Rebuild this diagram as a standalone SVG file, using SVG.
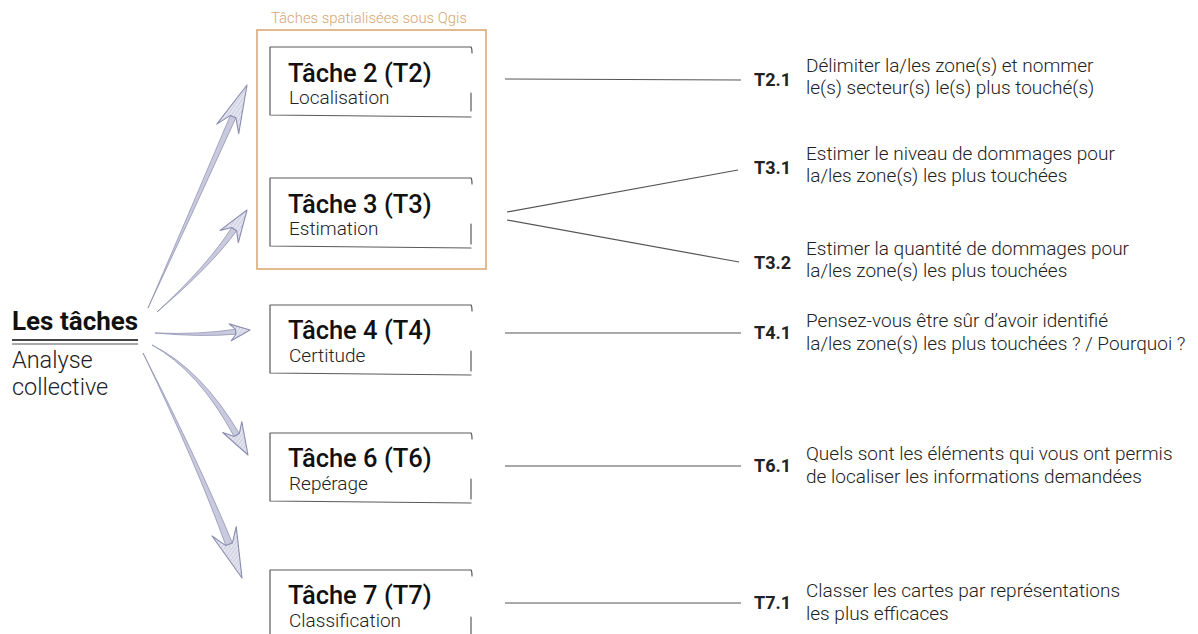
<svg xmlns="http://www.w3.org/2000/svg" width="1198" height="634" viewBox="0 0 1198 634">
<defs>
<style>
text{font-family:Roboto,"Liberation Sans",sans-serif;fill:#1a1a1a}
.frame{fill:none;stroke:#d9a46b;stroke-width:1.5}
.frameTitle{font-size:14.9px;font-weight:300;fill:#d6a672}
.box{fill:none;stroke:#5a5a5a;stroke-width:1.2;stroke-linecap:round}
.ttl{font-size:25.5px;font-weight:500;fill:#111}
.sub{font-size:19px;font-weight:300;fill:#222}
.con{fill:none;stroke:#555;stroke-width:1.2}
.code{font-size:18px;font-weight:700;fill:#222}
.desc{font-size:19px;font-weight:300;fill:#222}
.shaft{fill:#c9cadd;stroke:#9093b4;stroke-width:0.8;stroke-linejoin:round}
.head{fill:url(#hatch);stroke:#8a8db0;stroke-width:1.1;stroke-linejoin:round}
.main{font-size:26px;font-weight:700;fill:#111}
.mainsub{font-size:23.5px;font-weight:300;fill:#222}
</style>
<pattern id="hatch" patternUnits="userSpaceOnUse" width="3" height="3" patternTransform="rotate(35)">
<rect width="3" height="3" fill="#e4e5ef"/>
<line x1="0" y1="0" x2="0" y2="3" stroke="#b3b5cf" stroke-width="1"/>
</pattern>
</defs>
<rect width="1198" height="634" fill="#ffffff"/>

<g id="root">
<text class="main" x="12" y="330">Les tâches</text>
<line x1="12" y1="340" x2="138" y2="340" stroke="#444" stroke-width="1.8"/>
<line x1="12" y1="344" x2="138" y2="344" stroke="#555" stroke-width="1"/>
<text class="mainsub" x="12" y="368">Analyse</text>
<text class="mainsub" x="12" y="395">collective</text>
</g>

<g id="arrows">
<path class="shaft" d="M148,308 Q191.4,215.6 235.9,117.8 L230.4,115.4 Q188.6,214.4 148,308 Z"/>
<path class="head" d="M247,85 L238.7,133.7 L235.9,117.8 L230.4,115.4 L216.8,124.1 Z"/>
<path class="shaft" d="M157,312 Q211.2,265.8 236.6,230.8 L231.7,227.5 Q208.8,264.2 157,312 Z"/>
<path class="head" d="M247,210 L238.3,242.7 L236.6,230.8 L231.7,227.5 L220,230.4 Z"/>
<path class="shaft" d="M155,333 Q200.1,337.2 236,334.2 L235.4,329.2 Q199.9,334.8 155,333 Z"/>
<path class="head" d="M250,330 L231.2,340.8 L236,334.2 L235.4,329.2 L229.1,323.9 Z"/>
<path class="shaft" d="M152,345 Q198.7,370.7 234.1,436.4 L239.3,433.5 Q201.3,369.3 152,345 Z"/>
<path class="head" d="M248,455 L222.7,432.5 L234.1,436.4 L239.3,433.5 L241.8,421.7 Z"/>
<path class="shaft" d="M143,353 Q197.6,466.5 225.8,545.6 L232.4,543.1 Q200.4,465.5 143,353 Z"/>
<path class="head" d="M242,578 L212,536 L225.8,545.6 L232.4,543.1 L236.2,526.6 Z"/>
</g>

<g id="spatial-frame">
<rect class="frame" x="257" y="30" width="229" height="239"/>
<text class="frameTitle" x="271" y="23">Tâches spatialisées sous Qgis</text>
</g>

<g id="T2">
<path class="box" d="M270,47 L471,47 Q472,48 472,53 M270,47 L270,115 L471,117 M471,93 L471,111"/>
<text class="ttl" x="288" y="82">Tâche 2 (T2)</text>
<text class="sub" x="289" y="104">Localisation</text>
</g>
<g id="T3">
<path class="box" d="M270,178 L471,178 Q472,179 472,184 M270,178 L270,246 L471,248 M471,224 L471,244"/>
<text class="ttl" x="288" y="213">Tâche 3 (T3)</text>
<text class="sub" x="289" y="235">Estimation</text>
</g>
<g id="T4">
<path class="box" d="M270,305 L471,305 Q472,306 472,311 M270,305 L270,373 L471,375 M471,351 L471,371"/>
<text class="ttl" x="288" y="339">Tâche 4 (T4)</text>
<text class="sub" x="289" y="362">Certitude</text>
</g>
<g id="T6">
<path class="box" d="M270,433 L471,433 Q472,434 472,439 M270,433 L270,501 L471,503 M471,479 L471,499"/>
<text class="ttl" x="288" y="467">Tâche 6 (T6)</text>
<text class="sub" x="289" y="490">Repérage</text>
</g>
<g id="T7">
<path class="box" d="M270,570 L471,570 Q472,571 472,576 M270,570 L270,640 M471,617 L471,637"/>
<text class="ttl" x="288" y="604">Tâche 7 (T7)</text>
<text class="sub" x="289" y="627">Classification</text>
</g>

<g id="connectors">
<line class="con" x1="505" y1="79" x2="741" y2="80"/>
<line class="con" x1="507" y1="212" x2="738" y2="170"/>
<line class="con" x1="507" y1="220" x2="739" y2="262"/>
<line class="con" x1="505" y1="333" x2="741" y2="333"/>
<line class="con" x1="505" y1="466" x2="741" y2="466"/>
<line class="con" x1="505" y1="603" x2="741" y2="603"/>
</g>

<g id="T2.1">
<text class="code" x="754" y="86">T2.1</text>
<text class="desc" x="806" y="72">Délimiter la/les zone(s) et nommer</text>
<text class="desc" x="806" y="94">le(s) secteur(s) le(s) plus touché(s)</text>
</g>
<g id="T3.1">
<text class="code" x="754" y="174">T3.1</text>
<text class="desc" x="806" y="160">Estimer le niveau de dommages pour</text>
<text class="desc" x="806" y="182">la/les zone(s) les plus touchées</text>
</g>
<g id="T3.2">
<text class="code" x="754" y="269">T3.2</text>
<text class="desc" x="806" y="255">Estimer la quantité de dommages pour</text>
<text class="desc" x="806" y="277">la/les zone(s) les plus touchées</text>
</g>
<g id="T4.1">
<text class="code" x="754" y="339">T4.1</text>
<text class="desc" x="806" y="327">Pensez-vous être sûr d’avoir identifié</text>
<text class="desc" x="806" y="350">la/les zone(s) les plus touchées ? / Pourquoi ?</text>
</g>
<g id="T6.1">
<text class="code" x="754" y="472">T6.1</text>
<text class="desc" x="806" y="460">Quels sont les éléments qui vous ont permis</text>
<text class="desc" x="806" y="483">de localiser les informations demandées</text>
</g>
<g id="T7.1">
<text class="code" x="754" y="609">T7.1</text>
<text class="desc" x="806" y="597">Classer les cartes par représentations</text>
<text class="desc" x="806" y="620">les plus efficaces</text>
</g>
</svg>
